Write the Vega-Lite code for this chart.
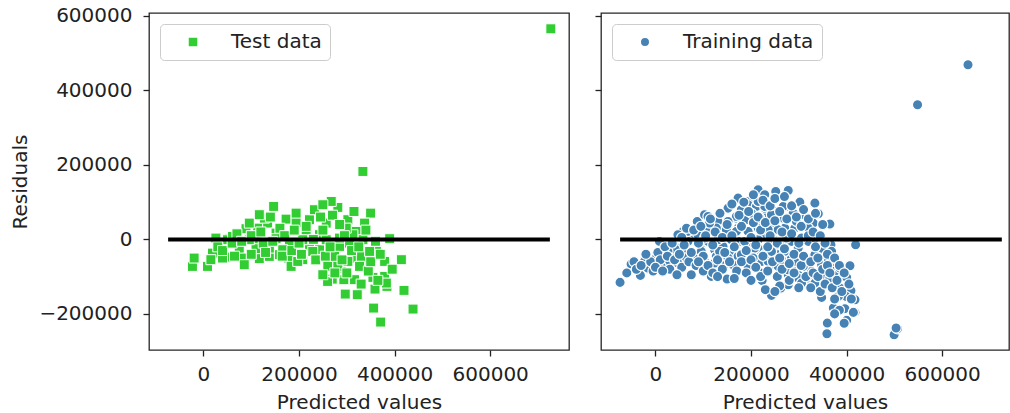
{
  "$schema": "https://vega.github.io/schema/vega-lite/v6.json",
  "padding": {"left": 10, "top": 5, "right": 0, "bottom": 0},
  "background": "white",
  "spacing": 23,
  "config": {
    "font": "DejaVu Sans",
    "view": {"stroke": "#262626", "strokeWidth": 1.3},
    "axis": {"domain": false, "grid": false, "labelFontSize": 20, "titleFontSize": 20, "titleFontWeight": "normal", "tickSize": 6, "tickColor": "#222", "tickWidth": 1.3, "labelColor": "#222", "titleColor": "#222", "labelFont": "DejaVu Sans", "titleFont": "DejaVu Sans"},
    "axisX": {"labelPadding": 8, "titlePadding": 8},
    "axisY": {"labelPadding": 11, "titlePadding": 8},
    "legend": {"orient": "none", "legendX": 11, "legendY": 11, "fillColor": "white", "strokeColor": "#cccccc", "cornerRadius": 4, "padding": 8, "labelFontSize": 20, "labelColor": "#222", "labelFont": "DejaVu Sans", "symbolSize": 100, "symbolOffset": 15, "labelOffset": 28}
  },
  "datasets": {
    "hline": [{"x": -74000, "x2": 725000, "y": 0}],
    "test": [
      {"pred": 727000, "resid": 565600}, {"pred": 333700, "resid": 182500}, {"pred": 146900, "resid": 88600}, {"pred": 281200, "resid": 85900},
      {"pred": 267400, "resid": 102000}, {"pred": 349800, "resid": 70600}, {"pred": 172900, "resid": 54500}, {"pred": 221800, "resid": 52900},
      {"pred": 256900, "resid": 43800}, {"pred": 302200, "resid": 52900}, {"pred": 337200, "resid": 43800}, {"pred": 193900, "resid": 45600},
      {"pred": 89000, "resid": 28700}, {"pred": 113300, "resid": 30300}, {"pred": 134300, "resid": 43800}, {"pred": 151900, "resid": 17000},
      {"pred": 214900, "resid": 17000}, {"pred": 242800, "resid": 12600}, {"pred": 319800, "resid": 21500}, {"pred": 53900, "resid": 1900},
      {"pred": 110000, "resid": -900}, {"pred": 389700, "resid": 1900}, {"pred": 74900, "resid": -25000}, {"pred": 110000, "resid": -25000},
      {"pred": 179800, "resid": -14200}, {"pred": 221800, "resid": -18800}, {"pred": 242800, "resid": -27700}, {"pred": 284800, "resid": -18800},
      {"pred": 305800, "resid": -9900}, {"pred": 333700, "resid": -900}, {"pred": 361800, "resid": -18800}, {"pred": -23100, "resid": -72500},
      {"pred": 8400, "resid": -72500}, {"pred": -19500, "resid": -50100}, {"pred": 18900, "resid": -36800}, {"pred": 45500, "resid": -47500},
      {"pred": 85400, "resid": -50100}, {"pred": 116900, "resid": -51800}, {"pred": 137900, "resid": -45600}, {"pred": 178400, "resid": -50100},
      {"pred": 183400, "resid": -72500}, {"pred": 207800, "resid": -54500}, {"pred": 260200, "resid": -72500}, {"pred": 274300, "resid": -45600},
      {"pred": 288300, "resid": -77000}, {"pred": 312700, "resid": -50100}, {"pred": 330300, "resid": -45600}, {"pred": 351300, "resid": -50100},
      {"pred": 379200, "resid": -59100}, {"pred": 414200, "resid": -54500}, {"pred": 333700, "resid": -72500}, {"pred": 269500, "resid": -106600},
      {"pred": 293800, "resid": -108200}, {"pred": 316200, "resid": -108200}, {"pred": 354700, "resid": -102000}, {"pred": 379200, "resid": -99300},
      {"pred": 296700, "resid": -146800}, {"pred": 321900, "resid": -148500}, {"pred": 359000, "resid": -133400}, {"pred": 384000, "resid": -126200},
      {"pred": 419700, "resid": -136900}, {"pred": 356100, "resid": -184400}, {"pred": 438600, "resid": -187100}, {"pred": 370800, "resid": -222000},
      {"pred": 259800, "resid": -112800}, {"pred": 50400, "resid": -900}, {"pred": 95900, "resid": -900}, {"pred": 151900, "resid": 1900},
      {"pred": 207800, "resid": -900}, {"pred": 256900, "resid": -900}, {"pred": 284800, "resid": 3600}, {"pred": 312700, "resid": 12600},
      {"pred": 127400, "resid": 57200}, {"pred": 116900, "resid": 66300}, {"pred": 193900, "resid": 70600}, {"pred": 232300, "resid": 79700},
      {"pred": 249800, "resid": 93100}, {"pred": 298800, "resid": 30300}, {"pred": 95900, "resid": 43800}, {"pred": 60900, "resid": 8100},
      {"pred": 361800, "resid": -32200}, {"pred": 347800, "resid": -32200}, {"pred": 326700, "resid": -72500}, {"pred": 302200, "resid": -59100},
      {"pred": 197300, "resid": -59100}, {"pred": 158900, "resid": -41100}, {"pred": 85400, "resid": -67900}, {"pred": 39900, "resid": -50100},
      {"pred": 15500, "resid": -54500}, {"pred": 382800, "resid": -117300}, {"pred": 249800, "resid": -94800}, {"pred": 281200, "resid": -72500},
      {"pred": 228700, "resid": -32200}, {"pred": 165800, "resid": -27700}, {"pred": 137900, "resid": -23400}, {"pred": 26000, "resid": 3600},
      {"pred": 30000, "resid": -20000}, {"pred": 40000, "resid": -30000}, {"pred": 60000, "resid": -10000}, {"pred": 65000, "resid": -45000},
      {"pred": 70000, "resid": 15000}, {"pred": 80000, "resid": -5000}, {"pred": 100000, "resid": 10000}, {"pred": 100000, "resid": -40000},
      {"pred": 120000, "resid": 20000}, {"pred": 125000, "resid": -10000}, {"pred": 130000, "resid": -35000}, {"pred": 140000, "resid": 60000},
      {"pred": 145000, "resid": -5000}, {"pred": 160000, "resid": 30000}, {"pred": 165000, "resid": -45000}, {"pred": 170000, "resid": 10000},
      {"pred": 185000, "resid": -30000}, {"pred": 190000, "resid": 25000}, {"pred": 200000, "resid": -10000}, {"pred": 205000, "resid": -40000},
      {"pred": 215000, "resid": 35000}, {"pred": 230000, "resid": 0}, {"pred": 235000, "resid": -55000}, {"pred": 245000, "resid": 60000},
      {"pred": 250000, "resid": 25000}, {"pred": 255000, "resid": -45000}, {"pred": 265000, "resid": -20000}, {"pred": 270000, "resid": 65000},
      {"pred": 275000, "resid": -90000}, {"pred": 285000, "resid": 40000}, {"pred": 290000, "resid": -55000}, {"pred": 295000, "resid": 10000},
      {"pred": 300000, "resid": -90000}, {"pred": 310000, "resid": -30000}, {"pred": 315000, "resid": 75000}, {"pred": 325000, "resid": -20000},
      {"pred": 330000, "resid": -120000}, {"pred": 340000, "resid": 25000}, {"pred": 345000, "resid": -85000}, {"pred": 350000, "resid": -60000},
      {"pred": 360000, "resid": -5000}, {"pred": 365000, "resid": -110000}, {"pred": 370000, "resid": -40000}, {"pred": 395000, "resid": -80000}
    ],
    "train": [
      {"pred": 654200, "resid": 469000}, {"pred": 548600, "resid": 361600}, {"pred": 499500, "resid": -255900}, {"pred": 506600, "resid": -239800},
      {"pred": -74100, "resid": -115400}, {"pred": -51000, "resid": -66300}, {"pred": -31500, "resid": -96600}, {"pred": -16000, "resid": -77000},
      {"pred": 8400, "resid": -5400}, {"pred": 17600, "resid": -70600}, {"pred": 43400, "resid": -23400}, {"pred": 57500, "resid": 21500},
      {"pred": 87500, "resid": 48300}, {"pred": 81800, "resid": -50100}, {"pred": 116900, "resid": -99300}, {"pred": 149800, "resid": -106600},
      {"pred": 172900, "resid": 109200}, {"pred": 214900, "resid": 130700}, {"pred": 253300, "resid": 128900}, {"pred": 279100, "resid": 130700},
      {"pred": 302200, "resid": 100100}, {"pred": 333700, "resid": 97400}, {"pred": 340800, "resid": 69000}, {"pred": 365100, "resid": 41100},
      {"pred": 367300, "resid": -14200}, {"pred": 417600, "resid": -14200}, {"pred": 407100, "resid": -70600}, {"pred": 398700, "resid": -102000},
      {"pred": 409200, "resid": -137700}, {"pred": 398700, "resid": -153000}, {"pred": 382800, "resid": -153000}, {"pred": 417600, "resid": -196000},
      {"pred": 400200, "resid": -217400}, {"pred": 372300, "resid": -184400}, {"pred": 396600, "resid": -186000}, {"pred": 359700, "resid": -224700},
      {"pred": 358900, "resid": -253200}, {"pred": 347800, "resid": -155700}, {"pred": 358300, "resid": -108200}, {"pred": 319800, "resid": -121600},
      {"pred": 242800, "resid": -150300}, {"pred": 262300, "resid": -130700}, {"pred": 221800, "resid": -90500}, {"pred": 165800, "resid": -67900},
      {"pred": 309300, "resid": -77000}, {"pred": 298800, "resid": -23400}, {"pred": 326700, "resid": -54500}, {"pred": 347800, "resid": -67900},
      {"pred": 354700, "resid": -50100}, {"pred": 270700, "resid": 30300}, {"pred": 305800, "resid": 66300}, {"pred": 330300, "resid": 43800},
      {"pred": 214900, "resid": 88600}, {"pred": 193900, "resid": 52900}, {"pred": 169300, "resid": 57200}, {"pred": 165800, "resid": 12600},
      {"pred": 214900, "resid": 34900}, {"pred": 246400, "resid": -800}, {"pred": 263800, "resid": -14200}, {"pred": 218300, "resid": -27700},
      {"pred": 176300, "resid": -5400}, {"pred": 141400, "resid": -18800}, {"pred": 110000, "resid": -5400}, {"pred": 85400, "resid": -800},
      {"pred": 68000, "resid": -50100}, {"pred": 144800, "resid": -67900}, {"pred": 193900, "resid": -59100}, {"pred": 253300, "resid": -36800},
      {"pred": 284800, "resid": -50100}, {"pred": 277900, "resid": -94800}, {"pred": 298800, "resid": -94800}, {"pred": 246400, "resid": -67900},
      {"pred": 110000, "resid": 21500}, {"pred": 137900, "resid": 30300}, {"pred": 151900, "resid": 84000}, {"pred": 193900, "resid": 102000},
      {"pred": 232300, "resid": 66300}, {"pred": 253300, "resid": 75200}, {"pred": 274300, "resid": 88600}, {"pred": 267400, "resid": 57200},
      {"pred": 291700, "resid": 30300}, {"pred": 228700, "resid": 12600}, {"pred": 193900, "resid": -14200}, {"pred": 158900, "resid": -41100},
      {"pred": 123800, "resid": -27700}, {"pred": 95900, "resid": -27700}, {"pred": 36500, "resid": -41100}, {"pred": -2100, "resid": -50100},
      {"pred": 26000, "resid": -63600}, {"pred": 47000, "resid": 12600}, {"pred": 74900, "resid": 12600}, {"pred": 102800, "resid": 66300},
      {"pred": 130900, "resid": 48300}, {"pred": 151900, "resid": 30300}, {"pred": 172900, "resid": 30300}, {"pred": 200800, "resid": 66300},
      {"pred": 214900, "resid": 110900}, {"pred": 228700, "resid": 84000}, {"pred": 242800, "resid": 30300}, {"pred": 284800, "resid": -5400},
      {"pred": 319800, "resid": -5400}, {"pred": 340800, "resid": -32200}, {"pred": 365100, "resid": -41100}, {"pred": 368700, "resid": -77000},
      {"pred": 382800, "resid": -94800}, {"pred": 354700, "resid": -85900}, {"pred": 326700, "resid": -85900}, {"pred": 295200, "resid": -72500},
      {"pred": 256800, "resid": -41100}, {"pred": 228700, "resid": -41100}, {"pred": 200800, "resid": -32200}, {"pred": 172900, "resid": -45600},
      {"pred": 127400, "resid": -45600}, {"pred": 60900, "resid": -32200}, {"pred": -23100, "resid": -54500}, {"pred": 1500, "resid": -45600},
      {"pred": 223300, "resid": -110600}, {"pred": 45500, "resid": -23400}, {"pred": 172900, "resid": 110900}, {"pred": 214900, "resid": 133400},
      {"pred": 251800, "resid": 128900}, {"pred": 277900, "resid": 131500}, {"pred": 419000, "resid": -14200}, {"pred": 400200, "resid": -102000},
      {"pred": 414200, "resid": -196000}, {"pred": 503700, "resid": -238100}, {"pred": 274300, "resid": 88600}, {"pred": 193900, "resid": 93100},
      {"pred": 211300, "resid": 88600}, {"pred": 228700, "resid": 88600}, {"pred": 249700, "resid": 66300}, {"pred": 295200, "resid": 48300},
      {"pred": 214900, "resid": 30300}, {"pred": 190400, "resid": 52900}, {"pred": 169300, "resid": 61700}, {"pred": 148400, "resid": 25900},
      {"pred": 169300, "resid": 21500}, {"pred": 151900, "resid": 48300}, {"pred": 127400, "resid": 30300}, {"pred": 110000, "resid": 61700},
      {"pred": 113300, "resid": 43800}, {"pred": 89000, "resid": 12600}, {"pred": 68000, "resid": 21500}, {"pred": 68000, "resid": -5400},
      {"pred": 43400, "resid": -27700}, {"pred": 26000, "resid": -32200}, {"pred": 1500, "resid": -50100}, {"pred": -23100, "resid": -59100},
      {"pred": 64400, "resid": -50100}, {"pred": 95900, "resid": -32200}, {"pred": 102800, "resid": -59100}, {"pred": 134300, "resid": -32200},
      {"pred": 162400, "resid": -67900}, {"pred": 179800, "resid": -41100}, {"pred": 193900, "resid": -72500}, {"pred": 207800, "resid": -23400},
      {"pred": 221800, "resid": -59100}, {"pred": 242800, "resid": -32200}, {"pred": 256800, "resid": -72500}, {"pred": 270700, "resid": -32200},
      {"pred": 277900, "resid": -81400}, {"pred": 298800, "resid": -23400}, {"pred": 309300, "resid": -72500}, {"pred": 319800, "resid": -103900},
      {"pred": 333700, "resid": -41100}, {"pred": 347800, "resid": -67900}, {"pred": 358300, "resid": -103900}, {"pred": 368700, "resid": -32200},
      {"pred": 375700, "resid": -85900}, {"pred": 386200, "resid": -77000}, {"pred": 333700, "resid": 3600}, {"pred": 305800, "resid": 3600},
      {"pred": 274300, "resid": 3600}, {"pred": 242800, "resid": -900}, {"pred": 214900, "resid": -900}, {"pred": 186800, "resid": -5400},
      {"pred": 158900, "resid": -900}, {"pred": 130900, "resid": -900}, {"pred": 102800, "resid": 3600}, {"pred": 267400, "resid": 88600},
      {"pred": 242800, "resid": 66300}, {"pred": 228700, "resid": 120000}, {"pred": 214900, "resid": 102000}, {"pred": 200800, "resid": 70600},
      {"pred": 179800, "resid": 79700}, {"pred": 218300, "resid": 57200}, {"pred": 256800, "resid": 25900}, {"pred": 235900, "resid": 25900},
      {"pred": 193900, "resid": 21500}, {"pred": 288300, "resid": 70600}, {"pred": 319800, "resid": 30300}, {"pred": 347800, "resid": -23400},
      {"pred": 361800, "resid": -59100}, {"pred": 291700, "resid": -59100}, {"pred": 263800, "resid": -54500}, {"pred": 235900, "resid": -59100},
      {"pred": 204400, "resid": -50100}, {"pred": 151900, "resid": -50100}, {"pred": 123800, "resid": -63600}, {"pred": 47000, "resid": -63600},
      {"pred": 12000, "resid": -72500}, {"pred": 298800, "resid": -103900}, {"pred": 277900, "resid": -121600}, {"pred": 305800, "resid": -117300},
      {"pred": 333700, "resid": -117300}, {"pred": 368700, "resid": -117300}, {"pred": 386200, "resid": -130700}, {"pred": 365100, "resid": -103900},
      {"pred": 417600, "resid": -161900},
      {"pred": -60000, "resid": -90000}, {"pred": -45000, "resid": -60000}, {"pred": -40000, "resid": -80000}, {"pred": -30000, "resid": -70000},
      {"pred": -10000, "resid": -60000}, {"pred": -5000, "resid": -85000}, {"pred": 5000, "resid": -35000}, {"pred": 10000, "resid": -55000},
      {"pred": 20000, "resid": -20000}, {"pred": 25000, "resid": -45000}, {"pred": 30000, "resid": -80000}, {"pred": 35000, "resid": -10000},
      {"pred": 40000, "resid": -55000}, {"pred": 50000, "resid": -40000}, {"pred": 55000, "resid": 5000}, {"pred": 55000, "resid": -75000},
      {"pred": 60000, "resid": -15000}, {"pred": 65000, "resid": 30000}, {"pred": 70000, "resid": -60000}, {"pred": 75000, "resid": -35000},
      {"pred": 80000, "resid": 25000}, {"pred": 85000, "resid": -70000}, {"pred": 90000, "resid": -10000}, {"pred": 95000, "resid": 35000},
      {"pred": 100000, "resid": -45000}, {"pred": 100000, "resid": -85000}, {"pred": 105000, "resid": 10000}, {"pred": 110000, "resid": -70000},
      {"pred": 115000, "resid": 55000}, {"pred": 120000, "resid": -15000}, {"pred": 120000, "resid": -90000}, {"pred": 125000, "resid": 20000},
      {"pred": 130000, "resid": -55000}, {"pred": 135000, "resid": 70000}, {"pred": 140000, "resid": 5000}, {"pred": 140000, "resid": -80000},
      {"pred": 145000, "resid": -35000}, {"pred": 150000, "resid": 40000}, {"pred": 155000, "resid": -60000}, {"pred": 160000, "resid": 95000},
      {"pred": 160000, "resid": 10000}, {"pred": 165000, "resid": -20000}, {"pred": 170000, "resid": -85000}, {"pred": 175000, "resid": 65000},
      {"pred": 180000, "resid": -60000}, {"pred": 180000, "resid": 35000}, {"pred": 185000, "resid": 100000}, {"pred": 190000, "resid": -30000},
      {"pred": 190000, "resid": -90000}, {"pred": 195000, "resid": 75000}, {"pred": 200000, "resid": 5000}, {"pred": 200000, "resid": -55000},
      {"pred": 205000, "resid": 120000}, {"pred": 205000, "resid": 45000}, {"pred": 210000, "resid": -75000}, {"pred": 210000, "resid": -15000},
      {"pred": 215000, "resid": 60000}, {"pred": 220000, "resid": 25000}, {"pred": 220000, "resid": -100000}, {"pred": 225000, "resid": 105000},
      {"pred": 225000, "resid": -45000}, {"pred": 230000, "resid": 45000}, {"pred": 235000, "resid": -20000}, {"pred": 235000, "resid": -85000},
      {"pred": 240000, "resid": 90000}, {"pred": 240000, "resid": 10000}, {"pred": 245000, "resid": -60000}, {"pred": 250000, "resid": 110000},
      {"pred": 250000, "resid": 50000}, {"pred": 255000, "resid": -10000}, {"pred": 255000, "resid": -100000}, {"pred": 260000, "resid": 75000},
      {"pred": 260000, "resid": -50000}, {"pred": 265000, "resid": 20000}, {"pred": 265000, "resid": -80000}, {"pred": 270000, "resid": 115000},
      {"pred": 270000, "resid": -25000}, {"pred": 275000, "resid": 55000}, {"pred": 280000, "resid": -65000}, {"pred": 280000, "resid": -110000},
      {"pred": 285000, "resid": 90000}, {"pred": 285000, "resid": 15000}, {"pred": 290000, "resid": -40000}, {"pred": 290000, "resid": -90000},
      {"pred": 295000, "resid": 60000}, {"pred": 300000, "resid": -10000}, {"pred": 300000, "resid": -130000}, {"pred": 305000, "resid": 35000},
      {"pred": 305000, "resid": -70000}, {"pred": 310000, "resid": 80000}, {"pred": 310000, "resid": -45000}, {"pred": 315000, "resid": -100000},
      {"pred": 320000, "resid": 10000}, {"pred": 320000, "resid": 55000}, {"pred": 325000, "resid": -60000}, {"pred": 325000, "resid": -130000},
      {"pred": 330000, "resid": 20000}, {"pred": 330000, "resid": -90000}, {"pred": 335000, "resid": 70000}, {"pred": 335000, "resid": -20000},
      {"pred": 340000, "resid": -50000}, {"pred": 340000, "resid": -100000}, {"pred": 345000, "resid": 10000}, {"pred": 345000, "resid": -140000},
      {"pred": 350000, "resid": 40000}, {"pred": 350000, "resid": -80000}, {"pred": 355000, "resid": -10000}, {"pred": 355000, "resid": -120000},
      {"pred": 360000, "resid": -40000}, {"pred": 360000, "resid": -70000}, {"pred": 365000, "resid": -90000}, {"pred": 370000, "resid": -130000},
      {"pred": 375000, "resid": -50000}, {"pred": 375000, "resid": -160000}, {"pred": 380000, "resid": -110000}, {"pred": 385000, "resid": -70000},
      {"pred": 390000, "resid": -140000}, {"pred": 395000, "resid": -90000}, {"pred": 385000, "resid": -190000}, {"pred": 405000, "resid": -120000},
      {"pred": 410000, "resid": -160000}, {"pred": 375000, "resid": -200000}, {"pred": 395000, "resid": -225000}, {"pred": -20000, "resid": -40000},
      {"pred": 0, "resid": -75000}, {"pred": 15000, "resid": -85000}, {"pred": 45000, "resid": -95000}, {"pred": 75000, "resid": -95000},
      {"pred": 90000, "resid": -60000}, {"pred": 130000, "resid": -100000}, {"pred": 165000, "resid": -105000}, {"pred": 200000, "resid": -110000},
      {"pred": 260000, "resid": -125000}, {"pred": 230000, "resid": -135000}, {"pred": 250000, "resid": -140000}
    ]
  },
  "hconcat": [
    {
      "width": 420,
      "height": 337,
      "layer": [
        {
          "data": {"name": "test"},
          "mark": {"type": "square", "size": 100, "filled": true, "opacity": 1, "stroke": "white", "strokeWidth": 1},
          "encoding": {
            "x": {"field": "pred", "type": "quantitative", "scale": {"domain": [-114000, 765000], "nice": false, "zero": false}, "axis": {"values": [0, 200000, 400000, 600000], "format": "d", "title": "Predicted values"}},
            "y": {"field": "resid", "type": "quantitative", "scale": {"domain": [-297000, 608000], "nice": false, "zero": false}, "axis": {"values": [-200000, 0, 200000, 400000, 600000], "format": "d", "title": "Residuals"}},
            "color": {"datum": "Test data", "scale": {"range": ["#32CD32"]}, "legend": {"title": null, "symbolType": "square"}}
          }
        },
        {
          "data": {"name": "hline"},
          "mark": {"type": "rule", "color": "black", "strokeWidth": 4},
          "encoding": {
            "x": {"field": "x", "type": "quantitative"},
            "x2": {"field": "x2"},
            "y": {"field": "y", "type": "quantitative"}
          }
        }
      ]
    },
    {
      "width": 408,
      "height": 337,
      "layer": [
        {
          "data": {"name": "train"},
          "mark": {"type": "circle", "size": 105, "filled": true, "opacity": 1, "stroke": "white", "strokeWidth": 1.2},
          "encoding": {
            "x": {"field": "pred", "type": "quantitative", "scale": {"domain": [-114000, 740000], "nice": false, "zero": false}, "axis": {"values": [0, 200000, 400000, 600000], "format": "d", "title": "Predicted values"}},
            "y": {"field": "resid", "type": "quantitative", "scale": {"domain": [-297000, 608000], "nice": false, "zero": false}, "axis": {"values": [-200000, 0, 200000, 400000, 600000], "labels": false, "title": null}},
            "color": {"datum": "Training data", "scale": {"range": ["#4682B4"]}, "legend": {"title": null, "symbolType": "circle", "symbolSize": 90}}
          }
        },
        {
          "data": {"name": "hline"},
          "mark": {"type": "rule", "color": "black", "strokeWidth": 4},
          "encoding": {
            "x": {"field": "x", "type": "quantitative"},
            "x2": {"field": "x2"},
            "y": {"field": "y", "type": "quantitative"}
          }
        }
      ]
    }
  ],
  "resolve": {"scale": {"x": "independent", "y": "independent", "color": "independent"}, "legend": {"color": "independent"}}
}
